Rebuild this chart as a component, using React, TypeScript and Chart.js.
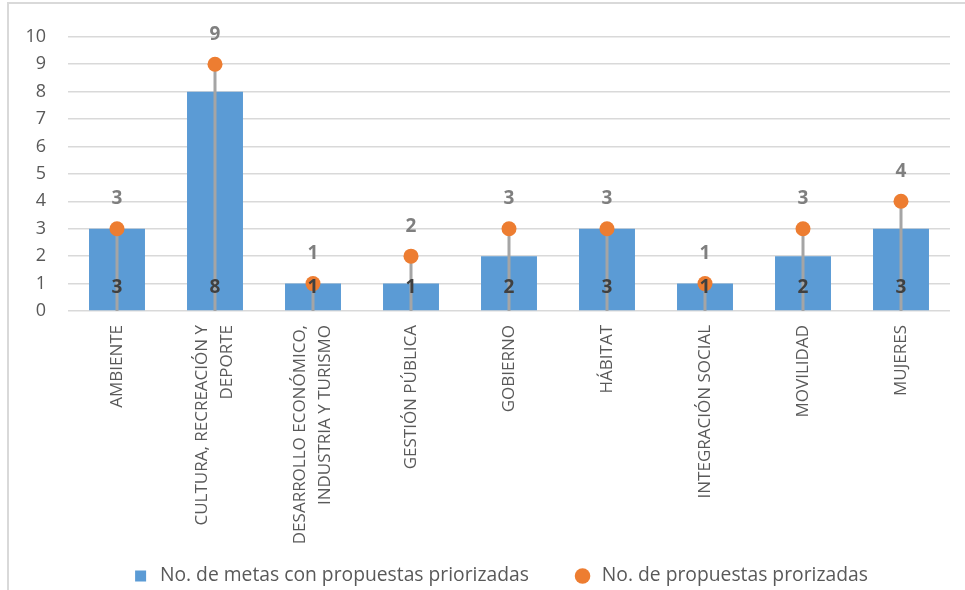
import React, { useEffect, useRef } from "react";
import { Chart, registerables } from "chart.js";

Chart.register(...registerables);

const categories: string[][] = [
  ["AMBIENTE"],
  ["CULTURA, RECREACIÓN Y", "DEPORTE"],
  ["DESARROLLO ECONÓMICO,", "INDUSTRIA Y TURISMO"],
  ["GESTIÓN PÚBLICA"],
  ["GOBIERNO"],
  ["HÁBITAT"],
  ["INTEGRACIÓN SOCIAL"],
  ["MOVILIDAD"],
  ["MUJERES"],
];
const metasValues = [3, 8, 1, 1, 2, 3, 1, 2, 3];
const propuestasValues = [3, 9, 1, 2, 3, 3, 1, 3, 4];
const seriesNames = [
  "No. de metas con propuestas priorizadas",
  "No. de propuestas prorizadas",
];
const yMin = 0;
const yMax = 10;
const yStep = 1;

const FONT = '"Open Sans", sans-serif';

const dropLinePlugin = {
  id: "dropLines",
  beforeDatasetDraw(chart: any, args: any) {
    if (args.index !== 1) return;
    const meta = chart.getDatasetMeta(1);
    const y0 = chart.scales.y.getPixelForValue(0);
    const ctx = chart.ctx;
    ctx.save();
    ctx.strokeStyle = "#A5A5A5";
    ctx.lineWidth = 3;
    meta.data.forEach((pt: any) => {
      ctx.beginPath();
      ctx.moveTo(pt.x, pt.y);
      ctx.lineTo(pt.x, y0);
      ctx.stroke();
    });
    ctx.restore();
  },
};

const valueLabelsPlugin = {
  id: "valueLabels",
  afterDatasetsDraw(chart: any) {
    const ctx = chart.ctx;
    const y0 = chart.scales.y.getPixelForValue(0);
    ctx.save();
    ctx.font = `bold 19px ${FONT}`;
    ctx.textAlign = "center";
    ctx.textBaseline = "middle";
    const barData = chart.data.datasets[0].data;
    const ptData = chart.data.datasets[1].data;
    chart.getDatasetMeta(0).data.forEach((bar: any, i: number) => {
      ctx.fillStyle = "#404040";
      ctx.fillText(String(barData[i]), bar.x, y0 - 23.5);
    });
    chart.getDatasetMeta(1).data.forEach((pt: any, i: number) => {
      ctx.fillStyle = "#7F7F7F";
      ctx.fillText(String(ptData[i]), pt.x, pt.y - 30);
    });
    ctx.restore();
  },
};

const xLabelsPlugin = {
  id: "xLabels",
  afterDraw(chart: any) {
    const xs = chart.scales.x;
    const ctx = chart.ctx;
    ctx.save();
    ctx.font = `17px ${FONT}`;
    ctx.fillStyle = "#595959";
    ctx.textAlign = "right";
    ctx.textBaseline = "middle";
    const labels = chart.data.labels as string[][];
    labels.forEach((lines, i) => {
      const x = xs.getPixelForValue(i);
      ctx.save();
      ctx.translate(x, xs.top + 14);
      ctx.rotate(-Math.PI / 2);
      lines.forEach((line, j) => {
        ctx.fillText(line, 0, (j - (lines.length - 1) / 2) * 25);
      });
      ctx.restore();
    });
    ctx.restore();
  },
};

// shift the legend box so that it is centred like the original
const legendShiftPlugin = {
  id: "legendShift",
  afterLayout(chart: any) {
    const lg = chart.legend;
    if (!lg) return;
    const newLeft = 39.8;
    lg.width = lg.right - newLeft;
    lg.left = newLeft;
  },
};

export default function App() {
  const canvasRef = useRef<HTMLCanvasElement | null>(null);

  useEffect(() => {
    if (!canvasRef.current) return;
    const chart = new Chart(canvasRef.current, {
      type: "bar",
      data: {
        labels: categories,
        datasets: [
          {
            type: "bar",
            label: seriesNames[0],
            data: metasValues,
            backgroundColor: "#5B9BD5",
            borderWidth: 0,
            barPercentage: 0.571,
            categoryPercentage: 1,
            pointStyle: "rect",
            order: 2,
          } as any,
          {
            type: "line",
            label: seriesNames[1],
            data: propuestasValues,
            showLine: false,
            backgroundColor: "#ED7D31",
            borderColor: "#ED7D31",
            borderWidth: 0,
            pointStyle: "circle",
            pointRadius: 7.5,
            pointBackgroundColor: "#ED7D31",
            pointBorderWidth: 0,
            order: 1,
          } as any,
        ],
      },
      options: {
        animation: false,
        responsive: true,
        maintainAspectRatio: false,
        layout: { padding: { left: 0, right: 15, top: 31, bottom: 8.35 } },
        scales: {
          x: {
            grid: { display: false },
            border: { display: false },
            ticks: { display: false },
            afterFit: (s: any) => {
              s.height = 211.35;
            },
          },
          y: {
            min: yMin,
            max: yMax,
            ticks: {
              stepSize: yStep,
              padding: 22,
              color: "#595959",
              font: { family: FONT, size: 18 },
            },
            grid: { color: "#D9D9D9", drawTicks: false, lineWidth: 1.5 },
            border: { display: false },
            afterFit: (s: any) => {
              s.width = 59;
            },
          },
        },
        plugins: {
          legend: {
            position: "bottom",
            labels: {
              usePointStyle: true,
              boxHeight: 11,
              padding: 44,
              color: "#595959",
              font: { family: FONT, size: 19.3 },
              sort: (a: any, b: any) => a.datasetIndex - b.datasetIndex,
            },
          },
          tooltip: { enabled: false },
        },
      } as any,
      plugins: [dropLinePlugin, valueLabelsPlugin, xLabelsPlugin, legendShiftPlugin],
    });
    return () => chart.destroy();
  }, []);

  return (
    <div
      style={{
        position: "absolute",
        left: 7,
        top: 2,
        width: 958,
        height: 588,
        borderTop: "2px solid #D9D9D9",
        borderLeft: "2px solid #D9D9D9",
        overflow: "hidden",
        background: "#fff",
      }}
    >
      <div style={{ position: "relative", width: 956, height: 600 }}>
        <canvas ref={canvasRef} />
      </div>
    </div>
  );
}
